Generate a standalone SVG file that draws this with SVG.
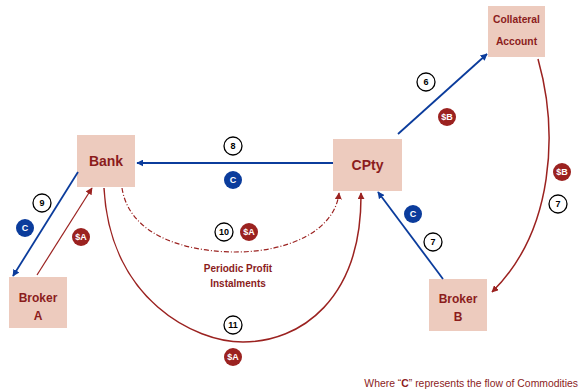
<svg xmlns="http://www.w3.org/2000/svg" width="579" height="392" viewBox="0 0 579 392">
  <style>
    .box { fill: #EDCBBE; }
    .lbl { font-family: "Liberation Sans", Arial, sans-serif; font-weight: bold; fill: #8B1C1C; text-anchor: middle; }
    .blue { fill: none; stroke: #0B3C9C; stroke-width: 1.8; marker-end: url(#ahBlue); }
    .red { fill: none; stroke: #9B2220; stroke-width: 1.5; marker-end: url(#ahRed); }
    .redThin { fill: none; stroke: #9B2220; stroke-width: 1.2; marker-end: url(#ahRed); }
    .dashdot { fill: none; stroke: #9B2220; stroke-width: 1.2; stroke-dasharray: 5 2 1 2; marker-end: url(#ahRed); }
    .num circle { fill: #fff; stroke: #000; stroke-width: 1.3; }
    .num text { font-family: "Liberation Sans", Arial, sans-serif; font-weight: bold; font-size: 9px; fill: #000; text-anchor: middle; }
    .tagC circle { fill: #0B3C9C; }
    .tagR circle { fill: #9B2220; }
    .tagC text, .tagR text { font-family: "Liberation Sans", Arial, sans-serif; font-weight: bold; font-size: 9px; fill: #fff; text-anchor: middle; }
  </style>
  <defs>
    <marker id="ahBlue" viewBox="0 0 10 10" refX="9" refY="5" markerWidth="7" markerHeight="7" markerUnits="userSpaceOnUse" orient="auto">
      <path d="M0,0 L10,5 L0,10 z" fill="#0B3C9C"/>
    </marker>
    <marker id="ahRed" viewBox="0 0 10 10" refX="9" refY="5" markerWidth="7" markerHeight="7" markerUnits="userSpaceOnUse" orient="auto">
      <path d="M0,0 L10,5 L0,10 z" fill="#9B2220"/>
    </marker>
  </defs>

  <!-- nodes -->
  <g id="bank">
    <rect class="box" x="77" y="135" width="58" height="52"/>
    <text class="lbl" x="106" y="166" font-size="14">Bank</text>
  </g>
  <g id="cpty">
    <rect class="box" x="333" y="139" width="69" height="52"/>
    <text class="lbl" x="367.5" y="170" font-size="14">CPty</text>
  </g>
  <g id="collateral">
    <rect class="box" x="488" y="6" width="57" height="51"/>
    <text class="lbl" x="516.5" y="23" font-size="10.3">Collateral</text>
    <text class="lbl" x="516.5" y="45" font-size="10.3">Account</text>
  </g>
  <g id="brokerA">
    <rect class="box" x="9" y="277" width="58" height="51"/>
    <text class="lbl" x="38" y="302" font-size="12">Broker</text>
    <text class="lbl" x="38" y="320" font-size="12">A</text>
  </g>
  <g id="brokerB">
    <rect class="box" x="429" y="279" width="58" height="52"/>
    <text class="lbl" x="458" y="303" font-size="12">Broker</text>
    <text class="lbl" x="458" y="321" font-size="12">B</text>
  </g>

  <!-- connectors -->
  <g id="connectors">
    <line class="blue" x1="333" y1="163" x2="137" y2="163"/>
    <line class="blue" x1="78" y1="172" x2="13" y2="276"/>
    <line class="redThin" x1="37" y1="275" x2="92" y2="188"/>
    <line class="blue" x1="398" y1="134" x2="487" y2="54"/>
    <line class="blue" x1="443" y1="279" x2="378" y2="192"/>
    <path class="red" d="M538,59 C558,130 555,230 492,292"/>
    <path class="dashdot" d="M122,188 C130,240 195,252 235,252 C290,252 335,230 339,193"/>
    <path class="red" d="M104,188 C110,300 195,342 243,342 C300,342 362,300 361,193"/>
  </g>

  <!-- step numbers and flow tags -->
  <g id="labels">
    <g class="num"><circle cx="233" cy="146" r="9"/><text x="233" y="149">8</text></g>
    <g class="tagC"><circle cx="233" cy="180" r="9"/><text x="233" y="183">C</text></g>

    <g class="num"><circle cx="42" cy="203" r="9"/><text x="42" y="206">9</text></g>
    <g class="tagC"><circle cx="25" cy="228" r="9"/><text x="25" y="231">C</text></g>
    <g class="tagR"><circle cx="81" cy="237" r="9"/><text x="81" y="240">$A</text></g>

    <g class="num"><circle cx="224" cy="232" r="9"/><text x="224" y="235">10</text></g>
    <g class="tagR"><circle cx="249" cy="232" r="9"/><text x="249" y="235">$A</text></g>

    <g class="num"><circle cx="233" cy="325" r="9"/><text x="233" y="328">11</text></g>
    <g class="tagR"><circle cx="233" cy="357" r="9"/><text x="233" y="360">$A</text></g>

    <g class="num"><circle cx="426" cy="82" r="9"/><text x="426" y="85">6</text></g>
    <g class="tagR"><circle cx="447" cy="117" r="9"/><text x="447" y="120">$B</text></g>

    <g class="tagR"><circle cx="562" cy="172" r="9"/><text x="562" y="175">$B</text></g>
    <g class="num"><circle cx="558" cy="204" r="9"/><text x="558" y="207">7</text></g>

    <g class="tagC"><circle cx="413" cy="214" r="9"/><text x="413" y="217">C</text></g>
    <g class="num"><circle cx="433" cy="242" r="9"/><text x="433" y="245">7</text></g>

    <text class="lbl" x="238" y="272" font-size="10">Periodic Profit</text>
    <text class="lbl" x="238" y="287" font-size="10">Instalments</text>
  </g>

  <text x="578" y="387" font-family="'Liberation Sans', Arial, sans-serif" font-size="10.4" fill="#8B1C1C" text-anchor="end">Where “<tspan font-weight="bold">C</tspan>” represents the flow of Commodities</text>
</svg>
